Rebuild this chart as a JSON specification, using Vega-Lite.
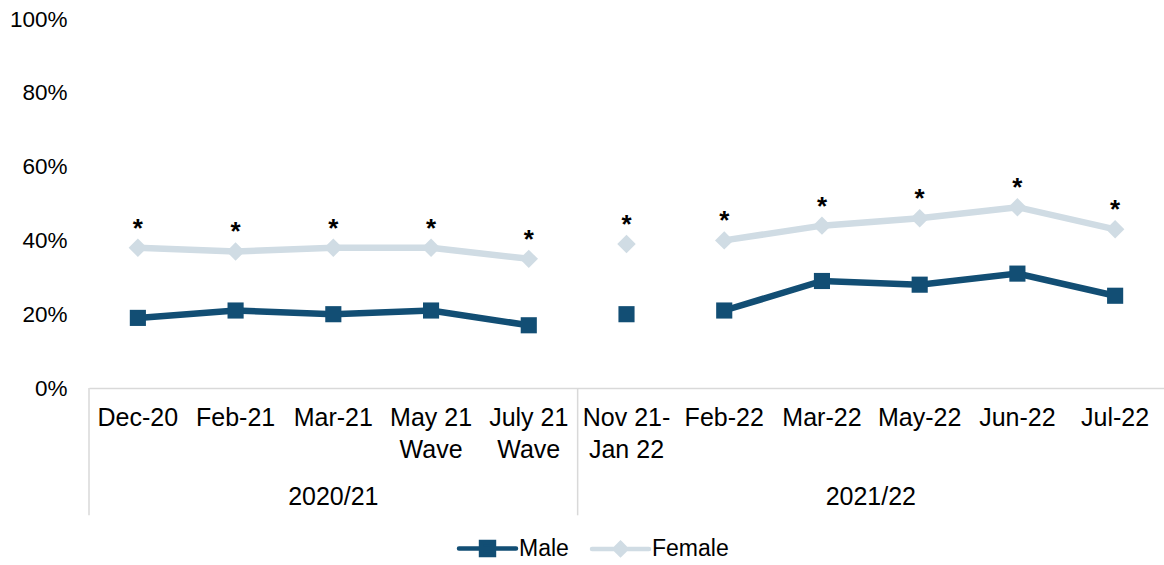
{
  "$schema": "https://vega.github.io/schema/vega-lite/v6.json",
  "width": 1075,
  "height": 369,
  "autosize": {"type": "none"},
  "padding": {"left": 89, "top": 19, "right": 0, "bottom": 177},
  "background": "white",
  "config": {
    "view": {"stroke": null},
    "font": "Liberation Sans",
    "text": {"font": "Liberation Sans"}
  },
  "datasets": {
    "main": [
      {"period": "Dec-20", "year": "2020/21", "sex": "Male", "value": 0.19, "seg": "A", "sig": ""},
      {"period": "Feb-21", "year": "2020/21", "sex": "Male", "value": 0.21, "seg": "A", "sig": ""},
      {"period": "Mar-21", "year": "2020/21", "sex": "Male", "value": 0.20, "seg": "A", "sig": ""},
      {"period": "May 21|Wave", "year": "2020/21", "sex": "Male", "value": 0.21, "seg": "A", "sig": ""},
      {"period": "July 21|Wave", "year": "2020/21", "sex": "Male", "value": 0.17, "seg": "A", "sig": ""},
      {"period": "Nov 21-|Jan 22", "year": "2021/22", "sex": "Male", "value": 0.20, "seg": "B", "sig": ""},
      {"period": "Feb-22", "year": "2021/22", "sex": "Male", "value": 0.21, "seg": "C", "sig": ""},
      {"period": "Mar-22", "year": "2021/22", "sex": "Male", "value": 0.29, "seg": "C", "sig": ""},
      {"period": "May-22", "year": "2021/22", "sex": "Male", "value": 0.28, "seg": "C", "sig": ""},
      {"period": "Jun-22", "year": "2021/22", "sex": "Male", "value": 0.31, "seg": "C", "sig": ""},
      {"period": "Jul-22", "year": "2021/22", "sex": "Male", "value": 0.25, "seg": "C", "sig": ""},
      {"period": "Dec-20", "year": "2020/21", "sex": "Female", "value": 0.38, "seg": "A", "sig": "*"},
      {"period": "Feb-21", "year": "2020/21", "sex": "Female", "value": 0.37, "seg": "A", "sig": "*"},
      {"period": "Mar-21", "year": "2020/21", "sex": "Female", "value": 0.38, "seg": "A", "sig": "*"},
      {"period": "May 21|Wave", "year": "2020/21", "sex": "Female", "value": 0.38, "seg": "A", "sig": "*"},
      {"period": "July 21|Wave", "year": "2020/21", "sex": "Female", "value": 0.35, "seg": "A", "sig": "*"},
      {"period": "Nov 21-|Jan 22", "year": "2021/22", "sex": "Female", "value": 0.39, "seg": "B", "sig": "*"},
      {"period": "Feb-22", "year": "2021/22", "sex": "Female", "value": 0.40, "seg": "C", "sig": "*"},
      {"period": "Mar-22", "year": "2021/22", "sex": "Female", "value": 0.44, "seg": "C", "sig": "*"},
      {"period": "May-22", "year": "2021/22", "sex": "Female", "value": 0.46, "seg": "C", "sig": "*"},
      {"period": "Jun-22", "year": "2021/22", "sex": "Female", "value": 0.49, "seg": "C", "sig": "*"},
      {"period": "Jul-22", "year": "2021/22", "sex": "Female", "value": 0.43, "seg": "C", "sig": "*"}
    ],
    "groups": [
      {"year": "2020/21", "start": "Dec-20"},
      {"year": "2021/22", "start": "Nov 21-|Jan 22"}
    ]
  },
  "layer": [
    {
      "data": {"name": "groups"},
      "mark": {"type": "rule", "color": "#D9D9D9", "strokeWidth": 1.5, "clip": false},
      "encoding": {
        "x": {"field": "start", "type": "nominal", "bandPosition": 0},
        "y": {"datum": 0},
        "y2": {"datum": -0.345}
      }
    },
    {
      "data": {"values": [{"year": "2020/21", "center": "Mar-21"}]},
      "mark": {"type": "text", "fontSize": 25, "color": "#000000", "baseline": "middle", "align": "center"},
      "encoding": {
        "x": {"field": "center", "type": "nominal", "bandPosition": 0.5},
        "y": {"datum": -0.295},
        "text": {"field": "year"}
      }
    },
    {
      "data": {"values": [{"year": "2021/22", "center": "May-22"}]},
      "mark": {"type": "text", "fontSize": 25, "color": "#000000", "baseline": "middle", "align": "center"},
      "encoding": {
        "x": {"field": "center", "type": "nominal", "bandPosition": 0},
        "y": {"datum": -0.295},
        "text": {"field": "year"}
      }
    },
    {
      "data": {"name": "main"},
      "mark": {"type": "line", "strokeWidth": 6.5},
      "encoding": {
        "x": {"field": "period", "type": "nominal"},
        "y": {"field": "value", "type": "quantitative"},
        "color": {"field": "sex", "type": "nominal"},
        "detail": {"field": "seg"}
      }
    },
    {
      "data": {"name": "main"},
      "transform": [{"filter": "datum.sex === 'Male'"}],
      "mark": {"type": "point", "filled": true, "opacity": 1, "shape": "square", "size": 260},
      "encoding": {
        "x": {"field": "period", "type": "nominal"},
        "y": {"field": "value", "type": "quantitative"},
        "color": {"field": "sex", "type": "nominal"}
      }
    },
    {
      "data": {"name": "main"},
      "transform": [{"filter": "datum.sex === 'Female'"}],
      "mark": {"type": "point", "filled": true, "opacity": 1, "shape": "diamond", "size": 340},
      "encoding": {
        "x": {"field": "period", "type": "nominal"},
        "y": {"field": "value", "type": "quantitative"},
        "color": {"field": "sex", "type": "nominal"}
      }
    },
    {
      "data": {"name": "main"},
      "transform": [{"filter": "datum.sig === '*'"}],
      "mark": {"type": "text", "fontSize": 26, "fontWeight": "bold", "color": "#000000", "baseline": "alphabetic", "dy": -11},
      "encoding": {
        "x": {"field": "period", "type": "nominal"},
        "y": {"field": "value", "type": "quantitative"},
        "text": {"field": "sig"}
      }
    }
  ],
  "encoding": {
    "x": {
      "field": "period",
      "type": "nominal",
      "sort": ["Dec-20", "Feb-21", "Mar-21", "May 21|Wave", "July 21|Wave", "Nov 21-|Jan 22", "Feb-22", "Mar-22", "May-22", "Jun-22", "Jul-22"],
      "scale": {"type": "band", "domain": ["Dec-20", "Feb-21", "Mar-21", "May 21|Wave", "July 21|Wave", "Nov 21-|Jan 22", "Feb-22", "Mar-22", "May-22", "Jun-22", "Jul-22"], "paddingInner": 0, "paddingOuter": 0},
      "axis": {
        "title": null,
        "labelAngle": 0,
        "labelExpr": "split(datum.label, '|')",
        "labelFontSize": 25,
        "labelColor": "#000000",
        "labelPadding": 17,
        "labelLineHeight": 32,
        "labelBaseline": "top",
        "labelOverlap": false,
        "ticks": false,
        "domainColor": "#D9D9D9",
        "domainWidth": 1.5,
        "grid": false
      }
    },
    "y": {
      "type": "quantitative",
      "scale": {"domain": [0, 1], "nice": false, "zero": true},
      "axis": {
        "title": null,
        "format": ".0%",
        "values": [0, 0.2, 0.4, 0.6, 0.8, 1],
        "labelFontSize": 22.5,
        "labelColor": "#000000",
        "labelPadding": 22,
        "ticks": false,
        "domain": false,
        "grid": false
      }
    },
    "color": {
      "type": "nominal",
      "scale": {"domain": ["Male", "Female"], "range": ["#124E74", "#D0DCE4"]},
      "legend": {
        "title": null,
        "orient": "none",
        "legendX": 377,
        "legendY": 508,
        "padding": 0,
        "direction": "horizontal",
        "labelFontSize": 23,
        "labelColor": "#000000",
        "symbolSize": 1444,
        "columnPadding": 14,
        "labelOffset": 10,
        "encode": {
          "symbols": {
            "update": {
              "shape": {"signal": "datum.value === 'Male' ? 'M-1.5,0H1.5M-0.34,-0.34H0.34V0.34H-0.34Z' : 'M-1.5,0H1.5M0,-0.3L0.3,0L0,0.3L-0.3,0Z'"},
              "fill": {"signal": "datum.value === 'Male' ? '#124E74' : '#D0DCE4'"},
              "stroke": {"signal": "datum.value === 'Male' ? '#124E74' : '#D0DCE4'"},
              "strokeWidth": {"value": 4.5},
              "strokeCap": {"value": "round"},
              "fillOpacity": {"value": 1},
              "opacity": {"value": 1}
            }
          }
        }
      }
    }
  }
}
